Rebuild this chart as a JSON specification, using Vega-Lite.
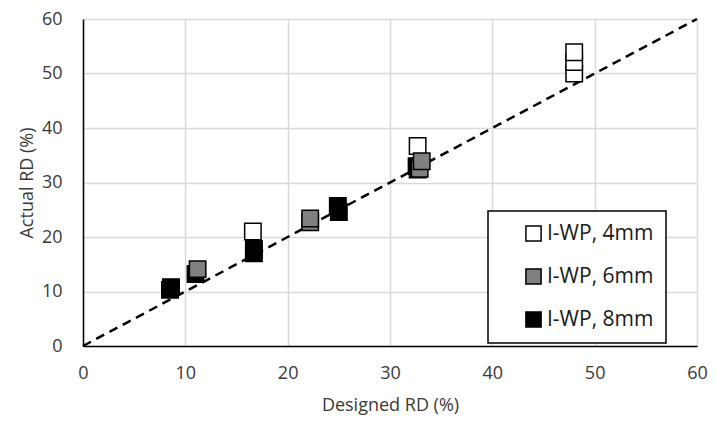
{
  "$schema": "https://vega.github.io/schema/vega-lite/v6.json",
  "width": 614,
  "height": 327,
  "padding": {"left": 18, "top": 10, "right": 10, "bottom": 5},
  "background": "white",
  "config": {
    "font": "Open Sans",
    "view": {"stroke": null},
    "axis": {
      "grid": true,
      "gridColor": "#d9d9d9",
      "gridWidth": 1.5,
      "ticks": false,
      "domain": true,
      "domainColor": "black",
      "domainWidth": 1.5,
      "labelFlush": false,
      "labelFontSize": 18,
      "labelColor": "#3a3a3a",
      "titleFontSize": 18,
      "titleColor": "#3a3a3a",
      "titleFontWeight": "normal"
    }
  },
  "datasets": {
    "pts": [
      {"designed": 48.0, "actual": 50.0, "series": "I-WP, 4mm"},
      {"designed": 48.0, "actual": 52.1, "series": "I-WP, 4mm"},
      {"designed": 48.0, "actual": 53.9, "series": "I-WP, 4mm"},
      {"designed": 32.7, "actual": 36.7, "series": "I-WP, 4mm"},
      {"designed": 16.6, "actual": 21.0, "series": "I-WP, 4mm"},
      {"designed": 8.5, "actual": 10.3, "series": "I-WP, 8mm"},
      {"designed": 8.6, "actual": 10.8, "series": "I-WP, 8mm"},
      {"designed": 11.0, "actual": 13.2, "series": "I-WP, 8mm"},
      {"designed": 16.7, "actual": 17.0, "series": "I-WP, 8mm"},
      {"designed": 16.7, "actual": 17.8, "series": "I-WP, 8mm"},
      {"designed": 25.0, "actual": 24.6, "series": "I-WP, 8mm"},
      {"designed": 24.9, "actual": 25.7, "series": "I-WP, 8mm"},
      {"designed": 32.6, "actual": 33.0, "series": "I-WP, 8mm"},
      {"designed": 32.7, "actual": 32.4, "series": "I-WP, 8mm"},
      {"designed": 11.2, "actual": 14.1, "series": "I-WP, 6mm"},
      {"designed": 22.2, "actual": 22.7, "series": "I-WP, 6mm"},
      {"designed": 22.2, "actual": 23.4, "series": "I-WP, 6mm"},
      {"designed": 32.9, "actual": 32.5, "series": "I-WP, 6mm"},
      {"designed": 33.1, "actual": 33.9, "series": "I-WP, 6mm"}
    ],
    "diag": [
      {"designed": 0, "actual": 0},
      {"designed": 60, "actual": 60}
    ]
  },
  "layer": [
    {
      "data": {"name": "diag"},
      "mark": {"type": "line", "color": "black", "strokeWidth": 2.5, "strokeDash": [9, 6]},
      "encoding": {
        "x": {"field": "designed", "type": "quantitative"},
        "y": {"field": "actual", "type": "quantitative"}
      }
    },
    {
      "data": {"name": "pts"},
      "mark": {"type": "point", "shape": "square", "filled": true, "size": 270, "stroke": "black", "strokeWidth": 1.5, "opacity": 1},
      "encoding": {
        "x": {
          "field": "designed", "type": "quantitative",
          "scale": {"domain": [0, 60], "nice": false},
          "axis": {"values": [0, 10, 20, 30, 40, 50, 60], "title": "Designed RD (%)", "labelPadding": 18, "titlePadding": 14}
        },
        "y": {
          "field": "actual", "type": "quantitative",
          "scale": {"domain": [0, 60], "nice": false},
          "axis": {"values": [0, 10, 20, 30, 40, 50, 60], "title": "Actual RD (%)", "labelPadding": 21, "titlePadding": 5}
        },
        "fill": {
          "field": "series", "type": "nominal",
          "scale": {"domain": ["I-WP, 4mm", "I-WP, 6mm", "I-WP, 8mm"], "range": ["#ffffff", "#808080", "#000000"]},
          "legend": {
            "title": null,
            "orient": "none",
            "legendX": 405,
            "legendY": 192,
            "fillColor": "white",
            "strokeColor": "black",
            "padding": 12,
            "symbolOffset": 23,
            "symbolType": "square",
            "symbolSize": 230,
            "symbolStrokeColor": "black",
            "symbolStrokeWidth": 1.5,
            "symbolOpacity": 1,
            "labelFontSize": 21,
            "labelColor": "#1a1a1a",
            "labelOffset": 3,
            "rowPadding": 20,
            "encode": {"legend": {"update": {"strokeWidth": {"value": 1.5}}}}
          }
        }
      }
    }
  ]
}
